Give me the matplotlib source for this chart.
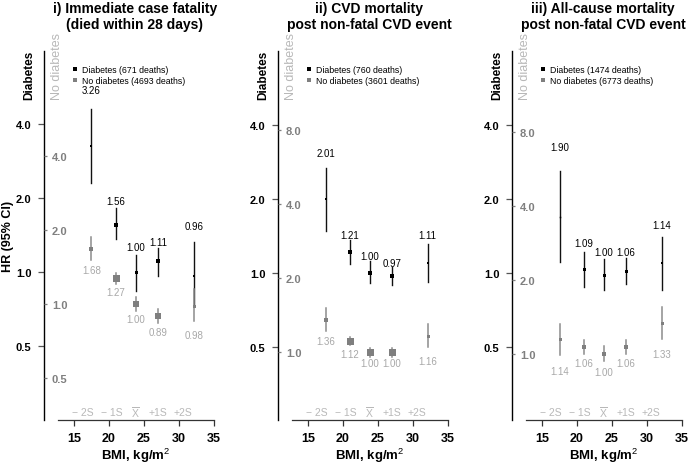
import matplotlib
matplotlib.use('Agg')
import matplotlib.pyplot as plt
from matplotlib.lines import Line2D
from matplotlib.ticker import FixedLocator, NullLocator

plt.rcParams['font.family'] = 'Liberation Sans'
plt.rcParams['mathtext.fontset'] = 'custom'
plt.rcParams['mathtext.rm'] = 'Liberation Sans'
plt.rcParams['mathtext.bf'] = 'Liberation Sans:bold'

W, H = 689, 464

# BMI groups (same in every panel)
bmi = [17.5, 21.0, 23.8, 27.0, 32.1]
sd_pos = [16.3, 20.4, 23.8, 27.0, 30.6]
sd_labels = ['\u2212 2S', '\u2212 1S', r'$\overline{\mathrm{X}}$', '+1S', '+2S']

titles = ['i) Immediate case fatality\n(died within 28 days)',
          'ii) CVD mortality\npost non-fatal CVD event',
          'iii) All-cause mortality\npost non-fatal CVD event']
deaths_dm = [671, 760, 1474]
deaths_nodm = [4693, 3601, 6773]

# i) diabetes
dm1_hr = [3.26, 1.56, 1.00, 1.11, 0.96]
dm1_lo = [2.30, 1.36, 0.84, 0.96, 0.74]
dm1_hi = [4.60, 1.82, 1.17, 1.25, 1.33]
dm1_lab = ['3.26', '1.56', '1.00', '1.11', '0.96']
# i) no diabetes
nd1_hr = [1.68, 1.27, 1.00, 0.89, 0.98]
nd1_lo = [1.51, 1.21, 0.94, 0.84, 0.85]
nd1_hi = [1.87, 1.34, 1.07, 0.95, 1.15]
nd1_lab = ['1.68', '1.27', '1.00', '0.89', '0.98']

# ii) diabetes
dm2_hr = [2.00, 1.22, 1.00, 0.97, 1.10]
dm2_lo = [1.48, 1.09, 0.91, 0.89, 0.92]
dm2_hi = [2.67, 1.36, 1.12, 1.06, 1.31]
dm2_lab = ['2.01', '1.21', '1.00', '0.97', '1.11']
# ii) no diabetes
nd2_hr = [1.35, 1.11, 1.00, 1.00, 1.16]
nd2_lo = [1.22, 1.07, 0.95, 0.95, 1.05]
nd2_hi = [1.51, 1.15, 1.04, 1.04, 1.30]
nd2_lab = ['1.36', '1.12', '1.00', '1.00', '1.16']

# iii) diabetes
dm3_hr = [1.69, 1.04, 0.98, 1.02, 1.10]
dm3_lo = [1.11, 0.88, 0.85, 0.90, 0.85]
dm3_hi = [2.60, 1.22, 1.14, 1.15, 1.40]
dm3_lab = ['1.90', '1.09', '1.00', '1.06', '1.14']
# iii) no diabetes
nd3_hr = [1.15, 1.07, 1.00, 1.07, 1.34]
nd3_lo = [0.99, 1.00, 0.94, 1.00, 1.15]
nd3_hi = [1.32, 1.14, 1.08, 1.14, 1.55]
nd3_lab = ['1.14', '1.06', '1.00', '1.06', '1.33']

dm_ticks = [0.5, 1, 2, 4]
nd_ticks = [[0.5, 1, 2, 4], [1, 2, 4, 8], [1, 2, 4, 8]]

# layout (pixels)
spine_x = [44, 278, 512]
dm_one = [273, 274, 274]
nd_one = [305, 353, 355]
top_px, bot_px, per2 = 52, 421, 74.0
dm_size = [[2, 3.5, 3, 3.5, 2], [2, 4, 4, 4, 2], [1.5, 3, 3, 3, 2]]
nd_size = [[3.5, 7, 6, 6, 3], [4, 7, 7, 7, 3], [3, 5, 5, 5, 3]]
dm_off = [[19, 7, 8, 6, 16], [15, 5, 5, 4, 9], [24, 9, 7, 6, 12]]
nd_off = [[10, 8, 8, 9, 14], [10, 9, 6, 6, 14], [16, 9, 11, 9, 15]]

GREY = '#7f7f7f'
GREY_CI = '#8c8c8c'
GREY_TXT = '#a8a8a8'
LIGHT = '#b8b8b8'

panels = [
    (dm1_hr, dm1_lo, dm1_hi, dm1_lab, nd1_hr, nd1_lo, nd1_hi, nd1_lab),
    (dm2_hr, dm2_lo, dm2_hi, dm2_lab, nd2_hr, nd2_lo, nd2_hi, nd2_lab),
    (dm3_hr, dm3_lo, dm3_hi, dm3_lab, nd3_hr, nd3_lo, nd3_hi, nd3_lab),
]

fig = plt.figure(figsize=(W / 100, H / 100), dpi=100)

for i, (dh, dl, du, dlab, nh, nl, nu, nlab) in enumerate(panels):
    x0 = spine_x[i]
    ax = fig.add_axes([x0 / W, (H - bot_px) / H, 170 / W, (bot_px - top_px) / H])
    ax.patch.set_visible(False)
    ax.set_xlim(15 - 30 / 7.0, 35)
    ax.set_yscale('log', base=2)
    ax.set_ylim(2 ** ((dm_one[i] - bot_px) / per2), 2 ** ((dm_one[i] - top_px) / per2))
    ax.yaxis.set_major_locator(FixedLocator(dm_ticks))
    ax.set_yticklabels(['%.1f' % t for t in dm_ticks], fontweight='bold', fontsize=8)
    ax.yaxis.set_minor_locator(NullLocator())
    ax.set_xticks([15, 20, 25, 30, 35])
    ax.set_xticklabels(['15', '20', '25', '30', '35'], fontweight='bold', fontsize=9)
    for s in ['top', 'right']:
        ax.spines[s].set_visible(False)
    ax.spines['left'].set_linewidth(1.0)
    ax.spines['bottom'].set_bounds(12.65, 35)
    ax.spines['bottom'].set_color('#333333')
    ax.spines['bottom'].set_linewidth(0.9)
    ax.tick_params(axis='y', length=4.5, width=0.9, color='#555555', pad=4.5)
    ax.tick_params(axis='x', length=4.3, width=0.9, color='#333333', pad=4.5)

    ax2 = ax.twinx()
    ax2.set_yscale('log', base=2)
    ax2.set_ylim(2 ** ((nd_one[i] - bot_px) / per2), 2 ** ((nd_one[i] - top_px) / per2))
    ax2.yaxis.tick_left()
    ax2.yaxis.set_major_locator(FixedLocator(nd_ticks[i]))
    ax2.set_yticklabels(['%.1f' % t for t in nd_ticks[i]], fontweight='bold', fontsize=8)
    ax2.yaxis.set_minor_locator(NullLocator())
    for s in ax2.spines.values():
        s.set_visible(False)
    ax2.tick_params(axis='y', direction='in', length=2.5, width=0.9, color=GREY,
                    labelcolor=GREY, pad=-16.8)

    # no diabetes
    for k in range(len(bmi)):
        ax2.plot([bmi[k], bmi[k]], [nl[k], nu[k]], color=GREY_CI, lw=1.1)
        ax2.plot(bmi[k], nh[k], marker='s', ls='', color=GREY, ms=nd_size[i][k] * 0.72, mew=0)
        ax2.annotate(nlab[k], xy=(bmi[k], nl[k]), xytext=(0, -nd_off[i][k] * 0.72),
                     textcoords='offset points', ha='center', va='center',
                     fontsize=7, color=GREY_TXT)
    # diabetes
    for k in range(len(bmi)):
        ax.plot([bmi[k], bmi[k]], [dl[k], du[k]], color='#111111', lw=1.0)
        ax.plot(bmi[k], dh[k], marker='s', ls='', color='black', ms=dm_size[i][k] * 0.72, mew=0)
        ax.annotate(dlab[k], xy=(bmi[k], du[k]), xytext=(0, dm_off[i][k] * 0.72),
                    textcoords='offset points', ha='center', va='center',
                    fontsize=7, color='black')

    # SD labels
    for p, t in zip(sd_pos, sd_labels):
        ax.text(p, (bot_px - 413) / (bot_px - top_px), t, transform=ax.get_xaxis_transform(),
                ha='center', va='center', fontsize=7.5, color=LIGHT)

    handles = [Line2D([], [], marker='s', ls='', color='black', ms=2.6, mew=0),
               Line2D([], [], marker='s', ls='', color=GREY, ms=2.6, mew=0)]
    ax.legend(handles, ['Diabetes (%d deaths)' % deaths_dm[i],
                        'No diabetes (%d deaths)' % deaths_nodm[i]],
              loc='upper left', bbox_to_anchor=((x0 + 28) / W, 1 - 66 / H),
              bbox_transform=fig.transFigure, frameon=False, borderpad=0,
              borderaxespad=0, handlelength=0.6, handletextpad=0.5,
              labelspacing=0.22, fontsize=6.3)

    fig.text((x0 + 91) / W, 1 - 2 / H, titles[i], ha='center', va='top',
             fontsize=10, fontweight='bold', linespacing=1.15)
    fig.text((x0 - 15) / W, 1 - 100 / H, 'Diabetes', rotation=90, ha='center',
             va='bottom', fontsize=8.5, fontweight='bold')
    fig.text((x0 + 13) / W, 1 - 100 / H, 'No diabetes', rotation=90, ha='center',
             va='bottom', fontsize=9, color=LIGHT)
    fig.text((x0 + 92) / W, 1 - 460 / H, r'BMI, kg/m$^2$', ha='center', va='baseline',
             fontsize=9.5, fontweight='bold')

fig.text(8 / W, 1 - 236 / H, 'HR (95% CI)', rotation=90, ha='center', va='center',
         fontsize=9, fontweight='bold')

fig.savefig('out.png', dpi=100)
